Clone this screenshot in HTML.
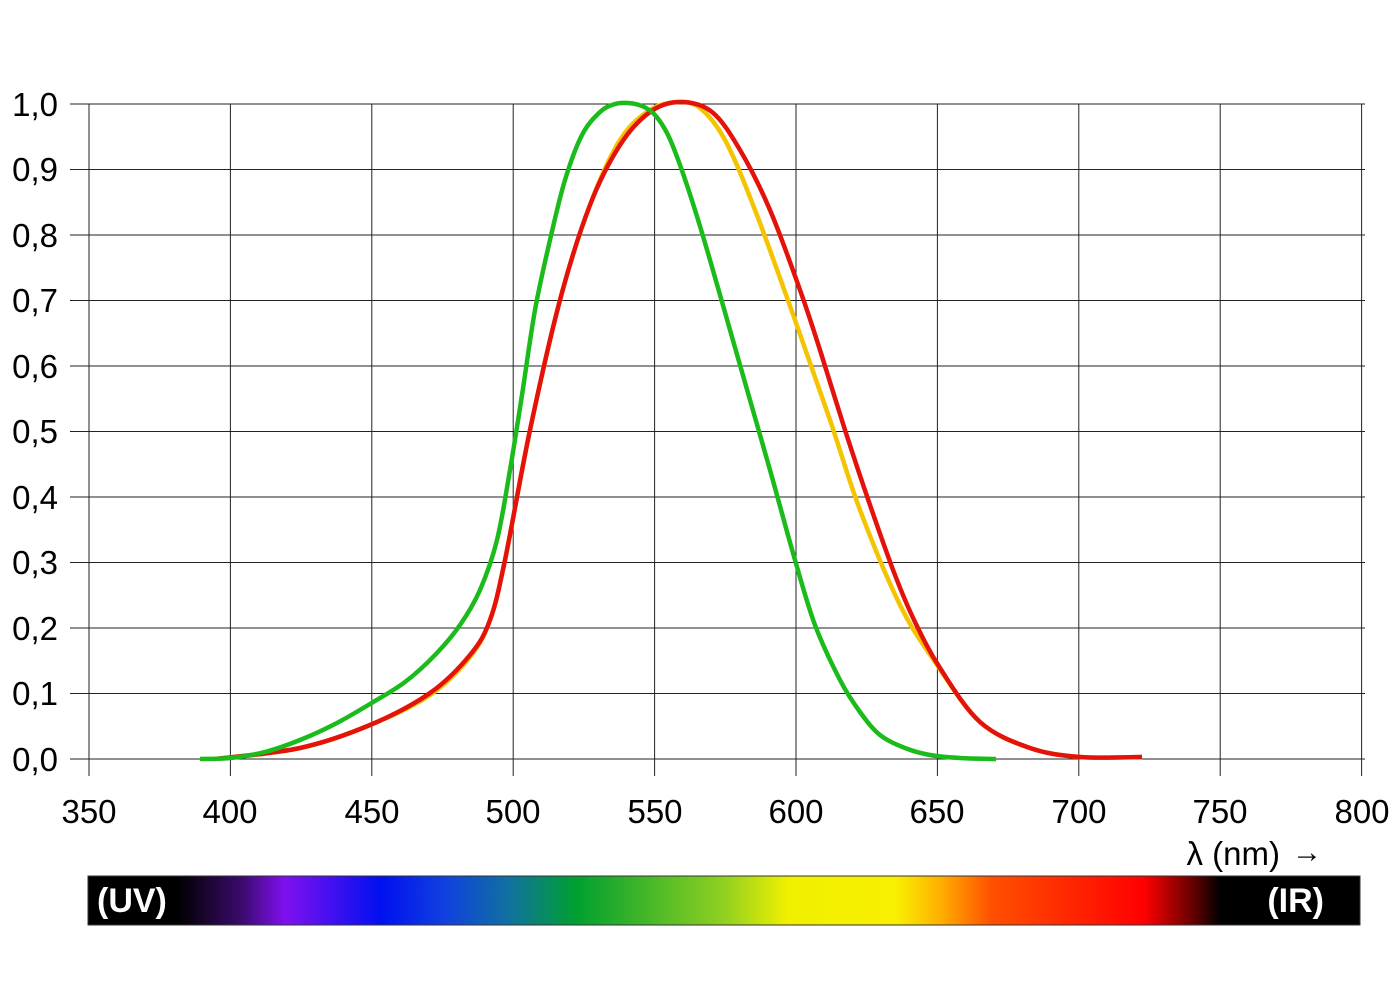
<!DOCTYPE html>
<html><head><meta charset="utf-8"><style>
body{margin:0;background:#fff;}
svg text{font-family:"Liberation Sans",sans-serif;}
</style></head><body>
<svg width="1400" height="990" viewBox="0 0 1400 990" xmlns="http://www.w3.org/2000/svg">
<defs>
<linearGradient id="sp" x1="88" x2="1360" y1="0" y2="0" gradientUnits="userSpaceOnUse">
<stop offset="0" stop-color="#000"/>
<stop offset="0.07" stop-color="#000"/>
<stop offset="0.12" stop-color="#3a0a6a"/>
<stop offset="0.155" stop-color="#8010f0"/>
<stop offset="0.23" stop-color="#0010f0"/>
<stop offset="0.28" stop-color="#1040e0"/>
<stop offset="0.33" stop-color="#1070a0"/>
<stop offset="0.384" stop-color="#00a030"/>
<stop offset="0.5" stop-color="#90d020"/>
<stop offset="0.55" stop-color="#f0f000"/>
<stop offset="0.635" stop-color="#f8f000"/>
<stop offset="0.67" stop-color="#ffb000"/>
<stop offset="0.71" stop-color="#ff5000"/>
<stop offset="0.83" stop-color="#ff0000"/>
<stop offset="0.87" stop-color="#600000"/>
<stop offset="0.89" stop-color="#000"/>
<stop offset="1" stop-color="#000"/>
</linearGradient>
</defs>
<g stroke="#222" stroke-width="1">
<line x1="70" y1="104" x2="1365" y2="104"/>
<line x1="70" y1="169.5" x2="1365" y2="169.5"/>
<line x1="70" y1="235" x2="1365" y2="235"/>
<line x1="70" y1="300.5" x2="1365" y2="300.5"/>
<line x1="70" y1="366" x2="1365" y2="366"/>
<line x1="70" y1="431.5" x2="1365" y2="431.5"/>
<line x1="70" y1="497" x2="1365" y2="497"/>
<line x1="70" y1="562.5" x2="1365" y2="562.5"/>
<line x1="70" y1="628" x2="1365" y2="628"/>
<line x1="70" y1="693.5" x2="1365" y2="693.5"/>
<line x1="70" y1="759" x2="1365" y2="759"/>
<line x1="89" y1="104" x2="89" y2="776"/>
<line x1="230.4" y1="104" x2="230.4" y2="776"/>
<line x1="371.8" y1="104" x2="371.8" y2="776"/>
<line x1="513.2" y1="104" x2="513.2" y2="776"/>
<line x1="654.6" y1="104" x2="654.6" y2="776"/>
<line x1="796" y1="104" x2="796" y2="776"/>
<line x1="937.4" y1="104" x2="937.4" y2="776"/>
<line x1="1078.8" y1="104" x2="1078.8" y2="776"/>
<line x1="1220.2" y1="104" x2="1220.2" y2="776"/>
<line x1="1361.6" y1="104" x2="1361.6" y2="776"/>
</g>
<g font-size="33" fill="#000" text-anchor="end">
<text x="58" y="116">1,0</text><text x="58" y="181">0,9</text><text x="58" y="247">0,8</text>
<text x="58" y="312">0,7</text><text x="58" y="378">0,6</text><text x="58" y="443">0,5</text>
<text x="58" y="509">0,4</text><text x="58" y="574">0,3</text><text x="58" y="640">0,2</text>
<text x="58" y="705">0,1</text><text x="58" y="771">0,0</text>
</g>
<g font-size="33" fill="#000" text-anchor="middle">
<text x="89" y="823">350</text><text x="230" y="823">400</text><text x="372" y="823">450</text>
<text x="513" y="823">500</text><text x="655" y="823">550</text><text x="796" y="823">600</text>
<text x="937" y="823">650</text><text x="1079" y="823">700</text><text x="1220" y="823">750</text>
<text x="1362" y="823">800</text>
</g>
<text x="1280" y="865" font-size="33" text-anchor="end">λ (nm)</text>
<text x="1292" y="862" font-size="30" font-weight="bold">→</text>
<g fill="none" stroke-width="4.5" stroke-linejoin="round">
<path id="cy" stroke="#f5c400"/>
<path id="cr" stroke="#e3120b"/>
<path id="cg" stroke="#1bbb1b"/>
</g>
<rect x="88" y="876" width="1272" height="49" fill="url(#sp)" stroke="#333" stroke-width="1"/>
<text x="97" y="912" font-size="34" font-weight="bold" fill="#fff">(UV)</text>
<text x="1324" y="912" font-size="34" font-weight="bold" fill="#fff" text-anchor="end">(IR)</text>
</svg>
<script>
function sm(p){var d="M"+p[0][0]+","+p[0][1];for(var i=0;i<p.length-1;i++){var a=p[i-1]||p[i],b=p[i],c=p[i+1],e=p[i+2]||c;
d+=" C"+(b[0]+(c[0]-a[0])/6)+","+(b[1]+(c[1]-a[1])/6)+" "+(c[0]-(e[0]-b[0])/6)+","+(c[1]-(e[1]-b[1])/6)+" "+c[0]+","+c[1];}return d;}
var Y=[[215,759],[300,748],[370,725],[430,695],[470,657],[490,620],[505,560],[530,430],[560,300],[590,205],[620,140],[650,110],[678,102],[700,108],[725,140],[755,210],[795,320],[830,420],[860,510],[900,605],[935,662],[980,722],[1030,748],[1080,757],[1142,757]];
var R=[[215,759],[300,748],[370,725],[430,693],[470,655],[490,620],[505,560],[530,430],[560,300],[590,205],[620,145],[650,112],[680,102],[712,112],[740,150],[770,210],[800,290],[820,350],[845,430],[870,505],[895,575],[915,622],[940,668],[980,722],[1030,748],[1080,757],[1142,757]];
var G=[[200,759],[230,758],[265,752],[300,740],[335,724],[370,704],[405,682],[435,655],[460,625],[480,590],[497,540],[510,470],[522,395],[535,310],[550,240],[565,180],[582,135],[600,112],[615,104],[628,103],[642,106],[655,115],[668,135],[680,165],[695,210],[710,260],[730,330],[750,400],[770,470],[795,560],[815,625],[840,680],[860,712],[880,735],[905,748],[930,755],[960,758],[996,759]];
document.getElementById("cy").setAttribute("d",sm(Y));
document.getElementById("cr").setAttribute("d",sm(R));
document.getElementById("cg").setAttribute("d",sm(G));
</script>
</body></html>
